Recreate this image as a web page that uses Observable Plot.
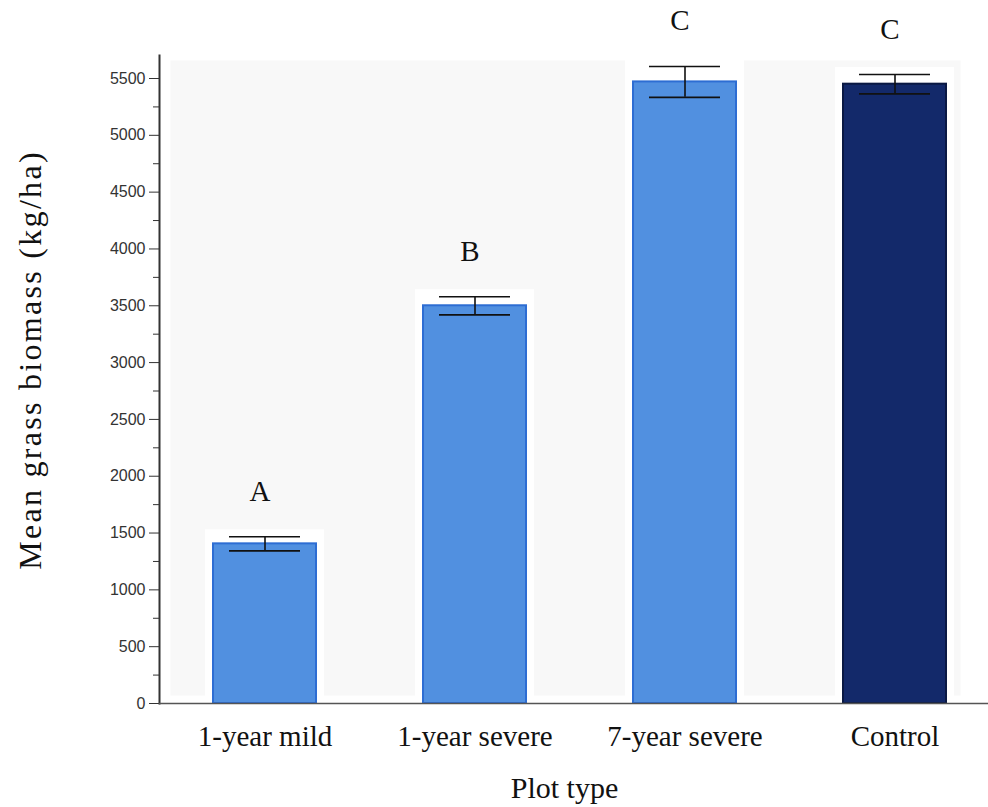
<!DOCTYPE html>
<html>
<head>
<meta charset="utf-8">
<script src="https://cdn.jsdelivr.net/npm/d3@7"></script>
<script src="https://cdn.jsdelivr.net/npm/@observablehq/plot@0.6"></script>
<style>
  html, body { margin: 0; padding: 0; background: white; }
</style>
</head>
<body>
<div id="chart"></div>
<script>
const categories = ["1-year mild", "1-year severe", "7-year severe", "Control"];
const means = [1405, 3500, 5470, 5450];
const errors = [62, 80, 136, 85];
const letters = ["A", "B", "C", "C"];
const majorTicks = [0, 500, 1000, 1500, 2000, 2500, 3000, 3500, 4000, 4500, 5000, 5500];
const minorTicks = [250, 750, 1250, 1750, 2250, 2750, 3250, 3750, 4250, 4750, 5250];
const xTitle = "Plot type";
const yTitle = "Mean grass biomass (kg/ha)";

const rows = categories.map((c, i) => ({
  category: c, mean: means[i], lo: means[i] - errors[i], hi: means[i] + errors[i], letter: letters[i]
}));

const serif = "'Liberation Serif', 'Times New Roman', serif";

const chart = Plot.plot({
  width: 988,
  height: 807,
  marginLeft: 159,
  marginTop: 78,
  marginBottom: 104,
  marginRight: 0,
  style: { background: "white", fontFamily: "'Liberation Sans', Arial, sans-serif", overflow: "visible" },
  x: { domain: categories, range: [159, 999], paddingInner: 0.5, paddingOuter: 0.25, label: null },
  y: { domain: [0, 5500], label: null },
  marks: [
    Plot.frame({ fill: "#f8f8f8", stroke: null, insetLeft: 11, insetTop: -18, insetBottom: 8, insetRight: 28 }),
    Plot.barY(rows, { x: "category", y: "hi", fill: "white", insetLeft: -7, insetRight: -7, insetTop: -7 }),
    Plot.barY(rows, { filter: d => d.category !== "Control", x: "category", y: "mean", fill: "#5190e0", stroke: "#2d6dd3", strokeWidth: 2, insetLeft: 1, insetRight: 1 }),
    Plot.barY(rows, { filter: d => d.category === "Control", x: "category", y: "mean", fill: "#13296a", stroke: "#0a1843", strokeWidth: 2, insetLeft: 1, insetRight: 1 }),
    Plot.ruleX(rows, { x: "category", y1: "lo", y2: "hi", stroke: "#111", strokeWidth: 1.6 }),
    Plot.tickY(rows, { x: "category", y: "hi", stroke: "#111", strokeWidth: 1.6, insetLeft: 17, insetRight: 17 }),
    Plot.tickY(rows, { x: "category", y: "lo", stroke: "#111", strokeWidth: 1.6, insetLeft: 17, insetRight: 17 }),
    Plot.text(rows, { x: "category", y: "hi", text: "letter", dy: -36, dx: -5, lineAnchor: "bottom", fontSize: 29, fontFamily: serif, fill: "#111" }),
    Plot.axisY({ ticks: majorTicks, tickSize: 10, tickPadding: 4, fontSize: 16, tickFormat: "d", label: null, color: "#333" }),
    Plot.axisY({ ticks: minorTicks, tickSize: 6, tickFormat: () => "", label: null, color: "#333" }),
    Plot.frame({ anchor: "left", stroke: "#333", strokeWidth: 2, insetTop: -23 }),
    Plot.frame({ anchor: "bottom", stroke: "#555", strokeWidth: 1.5 }),
    Plot.axisX({ tickSize: 0, tickPadding: 22, fontSize: 29, fontFamily: serif, label: null, color: "#111" }),
    Plot.text([xTitle], { text: d => d, frameAnchor: "bottom", dy: 85, dx: -9.5, fontSize: 30, fontFamily: serif, lineAnchor: "middle", textAnchor: "middle", fill: "#111" }),
    Plot.text([yTitle], { text: d => d, frameAnchor: "left", rotate: -90, dx: -129, dy: -31, fontSize: 32, fontFamily: serif, lineAnchor: "middle", textAnchor: "middle", fill: "#111" })
  ]
});

chart.querySelectorAll("text").forEach(t => {
  if (t.textContent === yTitle) t.style.letterSpacing = "2.3px";
});

document.getElementById("chart").appendChild(chart);
</script>
</body>
</html>
